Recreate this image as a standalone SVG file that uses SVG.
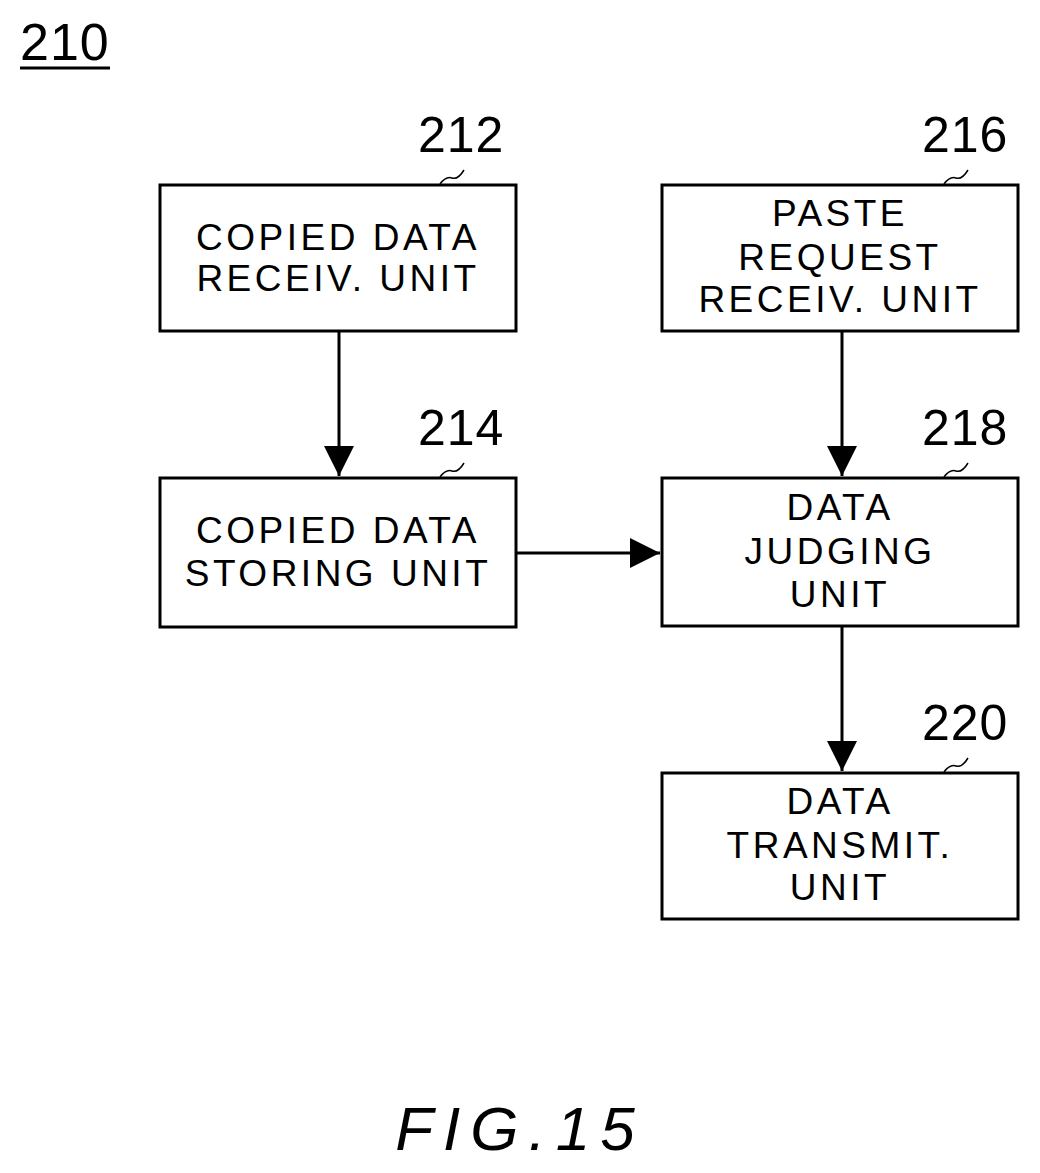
<svg xmlns="http://www.w3.org/2000/svg" width="1040" height="1173" viewBox="0 0 1040 1173">
<style>
.b{fill:#fff;stroke:#000;stroke-width:3}
.t{font-family:"Liberation Sans",Arial,sans-serif;font-size:37px;text-anchor:middle;letter-spacing:3.5px}
.n{font-family:"Liberation Sans",Arial,sans-serif;font-size:50px;letter-spacing:1px}
.c{fill:none;stroke:#000;stroke-width:3}
.q{fill:none;stroke:#000;stroke-width:1.5}
</style>
<defs>
<marker id="h" viewBox="0 0 30 30" refX="30" refY="15" markerWidth="30" markerHeight="30" orient="auto" markerUnits="userSpaceOnUse"><path d="M0,0L30,15L0,30z"/></marker></defs>
<rect width="1040" height="1173" fill="#fff"/>
<text x="20" y="60" class="n" font-size="52" style="font-size:52px">210</text>
<line x1="20" y1="68" x2="110" y2="68" stroke="#000" stroke-width="3"/>
<g id="n212"><rect class="b" x="160" y="185" width="356" height="146"/><text class="t" x="338" y="250">COPIED DATA</text><text class="t" x="338" y="291">RECEIV. UNIT</text><text class="n" x="418" y="152">212</text><path class="q" d="M440,184 q6,-8 12,-6 q6,2 12,-8"/></g>
<g id="n216"><rect class="b" x="662" y="185" width="356" height="146"/><text class="t" x="840" y="226">PASTE</text><text class="t" x="840" y="270">REQUEST</text><text class="t" x="840" y="312">RECEIV. UNIT</text><text class="n" x="922" y="152">216</text><path class="q" d="M944,184 q6,-8 12,-6 q6,2 12,-8"/></g>
<g id="n214"><rect class="b" x="160" y="478" width="356" height="149"/><text class="t" x="338" y="543">COPIED DATA</text><text class="t" x="338" y="586">STORING UNIT</text><text class="n" x="418" y="445">214</text><path class="q" d="M440,477 q6,-8 12,-6 q6,2 12,-8"/></g>
<g id="n218"><rect class="b" x="662" y="478" width="356" height="148"/><text class="t" x="840" y="520">DATA</text><text class="t" x="840" y="564">JUDGING</text><text class="t" x="840" y="607">UNIT</text><text class="n" x="922" y="445">218</text><path class="q" d="M944,477 q6,-8 12,-6 q6,2 12,-8"/></g>
<g id="n220"><rect class="b" x="662" y="773" width="356" height="146"/><text class="t" x="840" y="814">DATA</text><text class="t" x="840" y="858">TRANSMIT.</text><text class="t" x="840" y="900">UNIT</text><text class="n" x="922" y="740">220</text><path class="q" d="M944,772 q6,-8 12,-6 q6,2 12,-8"/></g>
<g id="connectors">
<line class="c" x1="339" y1="331" x2="339" y2="476" marker-end="url(#h)"/>
<line class="c" x1="842" y1="331" x2="842" y2="476" marker-end="url(#h)"/>
<line class="c" x1="516" y1="553" x2="660" y2="553" marker-end="url(#h)"/>
<line class="c" x1="842" y1="626" x2="842" y2="771" marker-end="url(#h)"/>
</g>
<text x="520" y="1150" font-family="Liberation Sans,Arial,sans-serif" font-size="62" font-style="italic" text-anchor="middle" letter-spacing="10">FIG.15</text>
</svg>
